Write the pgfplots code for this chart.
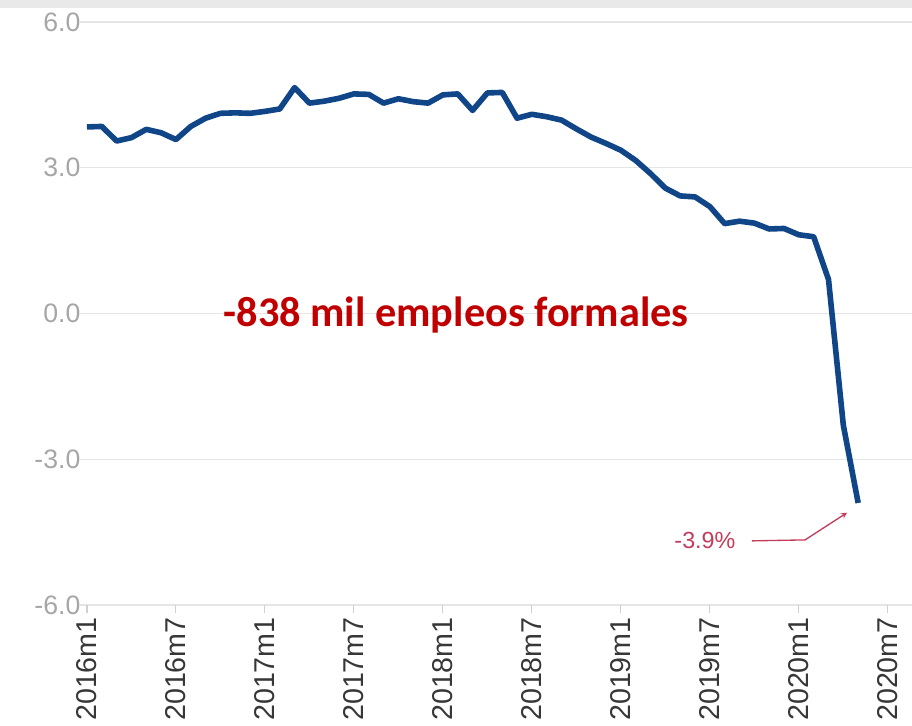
\documentclass[border=0pt]{standalone}
\usepackage{pgfplots}
\pgfplotsset{compat=1.18}
\usepackage{fontspec}
\setmainfont{Liberation Sans}
\newfontfamily\carlito{Carlito}
\definecolor{linea}{RGB}{16,70,135}
\definecolor{rojo}{RGB}{192,0,0}
\definecolor{rosa}{RGB}{196,60,92}
\definecolor{gridgris}{RGB}{229,229,229}
\definecolor{tickgris}{RGB}{166,166,166}
\definecolor{xgris}{RGB}{55,55,55}

% empleo formal, variacion anual (%), 2016m1 = 0
\pgfplotstableread{
i   v
0   3.84
1   3.85
2   3.55
3   3.62
4   3.79
5   3.72
6   3.58
7   3.85
8   4.02
9   4.12
10  4.13
11  4.12
12  4.16
13  4.21
14  4.65
15  4.33
16  4.37
17  4.43
18  4.52
19  4.51
20  4.33
21  4.42
22  4.36
23  4.33
24  4.50
25  4.52
26  4.18
27  4.54
28  4.55
29  4.02
30  4.10
31  4.05
32  3.98
33  3.80
34  3.63
35  3.50
36  3.36
37  3.15
38  2.88
39  2.58
40  2.42
41  2.40
42  2.20
43  1.85
44  1.90
45  1.86
46  1.74
47  1.75
48  1.62
49  1.58
50  0.70
51  -2.30
52  -3.90
}\empleo

\begin{document}
\begin{tikzpicture}
\begin{axis}[
    at={(0,0)}, anchor=south west,
    scale only axis,
    width=624pt, height=437.25pt,
    xmin=-0.47, xmax=55.63,
    ymin=-6, ymax=6,
    ytick={-6,-3,0,3,6},
    xtick={0,6,...,54},
    xticklabels={2016m1,2016m7,2017m1,2017m7,2018m1,2018m7,2019m1,2019m7,2020m1,2020m7},
    axis line style={draw=none},
    ymajorgrids,
    grid style={gridgris, line width=1pt},
    ytick style={draw=none},
    xtick style={draw=gridgris!80!gray, line width=0.8pt},
    tick align=outside,
    major tick length=6pt,
    xtick pos=bottom,
    ytick pos=left,
    /pgf/number format/assume math mode=true,
    yticklabel style={/pgf/number format/fixed, /pgf/number format/fixed zerofill, /pgf/number format/precision=1},
    every y tick label/.append style={font=\fontsize{20}{24}\selectfont, text=tickgris, inner sep=0pt, anchor=east, xshift=6.5pt},
    every x tick label/.append style={font=\fontsize{21.5}{24}\selectfont, text=xgris, inner sep=0pt, rotate=90, anchor=east},
    xticklabel shift=3pt,
]
\addplot[linea, line width=4.2pt, line join=round] table[x=i, y=v] {\empleo};

\node[anchor=base, text=rojo, font=\carlito\bfseries\fontsize{31.7}{36}\selectfont]
    at (axis cs:24.9,-0.27) {-838 mil empleos formales};
\node[anchor=base, text=rosa, font=\fontsize{17.5}{20}\selectfont]
    at (axis cs:41.67,-4.845) {-3.9\%};
\draw[rosa, line width=1pt, -stealth]
    (axis cs:44.84,-4.68) -- (axis cs:48.42,-4.66) -- (axis cs:51.25,-4.10);
\end{axis}
\fill[gray!17] (-60pt,447.75pt) rectangle (624pt,453.75pt);
\pgfresetboundingbox
\useasboundingbox (-60pt,-90pt) rectangle (624pt,453.75pt);
\end{tikzpicture}
\end{document}
